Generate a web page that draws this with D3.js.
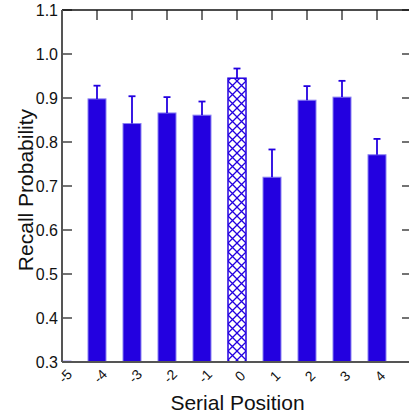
<!DOCTYPE html>
<html>
<head>
<meta charset="utf-8">
<script src="https://cdn.jsdelivr.net/npm/d3@7"></script>
<style>
  html, body { margin: 0; padding: 0; background: #fff; }
  text { font-family: Arial, "Liberation Sans", sans-serif; fill: #111; }
</style>
</head>
<body>
<div id="chart"></div>
<script>
// Serial position recall data
const positions = [-5, -4, -3, -2, -1, 0, 1, 2, 3, 4];
const recall = [0.302, 0.898, 0.842, 0.866, 0.861, 0.945, 0.720, 0.895, 0.902, 0.771];
const errUp = [0, 0.030, 0.062, 0.036, 0.031, 0.022, 0.063, 0.032, 0.037, 0.036];
const yTicks = [0.3, 0.4, 0.5, 0.6, 0.7, 0.8, 0.9, 1.0, 1.1];
const xTicks = [-5, -4, -3, -2, -1, 0, 1, 2, 3, 4];
const highlight = 0; // the hatched bar

const W = 409, H = 415;
const plot = { left: 62, right: 412, top: 10, bottom: 362 };
const blue = '#2300e0';

const svg = d3.select('#chart').append('svg')
  .attr('width', W)
  .attr('height', H);

const x = d3.scaleLinear().domain([-5, 5]).range([plot.left, plot.right]);
const y = d3.scaleLinear().domain([0.3, 1.1]).range([plot.bottom, plot.top]);
const barW = 18;

// crosshatch pattern for the target position
const defs = svg.append('defs');
const pat = defs.append('pattern')
  .attr('id', 'hatch')
  .attr('patternUnits', 'userSpaceOnUse')
  .attr('width', 9).attr('height', 9)
  .attr('x', x(0) - barW / 2);
pat.append('rect').attr('width', 9).attr('height', 9).attr('fill', '#fff');
pat.append('path')
  .attr('d', 'M0,0 L9,9 M9,0 L0,9')
  .attr('stroke', blue).attr('stroke-width', 1.3).attr('fill', 'none');

defs.append('clipPath').attr('id', 'plotClip')
  .append('rect')
  .attr('x', plot.left).attr('y', plot.top)
  .attr('width', plot.right - plot.left).attr('height', plot.bottom - plot.top);

// frame ticks (inward)
const frame = svg.append('g');
yTicks.forEach(v => {
  frame.append('line')
    .attr('x1', plot.left).attr('x2', plot.left + 10)
    .attr('y1', y(v)).attr('y2', y(v))
    .attr('stroke', '#444').attr('stroke-width', 1.5);
  frame.append('line')
    .attr('x1', plot.right).attr('x2', plot.right - 10)
    .attr('y1', y(v)).attr('y2', y(v))
    .attr('stroke', '#444').attr('stroke-width', 1.5);
});
xTicks.forEach(v => {
  frame.append('line')
    .attr('x1', x(v)).attr('x2', x(v))
    .attr('y1', plot.top).attr('y2', plot.top + 10)
    .attr('stroke', '#444').attr('stroke-width', 1.5);
});

// bars
const bars = svg.append('g').attr('clip-path', 'url(#plotClip)');
positions.forEach((p, i) => {
  const isHi = p === highlight;
  bars.append('rect')
    .attr('x', x(p) - barW / 2)
    .attr('y', y(recall[i]))
    .attr('width', barW)
    .attr('height', y(0.3) - y(recall[i]))
    .attr('fill', isHi ? 'url(#hatch)' : blue)
    .attr('stroke', isHi ? blue : '#8a80f2')
    .attr('stroke-width', isHi ? 1.5 : 1);

  if (errUp[i] > 0) {
    const top = y(recall[i] + errUp[i]);
    bars.append('line')
      .attr('x1', x(p)).attr('x2', x(p))
      .attr('y1', y(recall[i])).attr('y2', top)
      .attr('stroke', blue).attr('stroke-width', 1.8);
    bars.append('line')
      .attr('x1', x(p) - 3.5).attr('x2', x(p) + 3.5)
      .attr('y1', top).attr('y2', top)
      .attr('stroke', blue).attr('stroke-width', 1.8);
  }
});

// frame lines
svg.append('line')
  .attr('x1', plot.left).attr('x2', W)
  .attr('y1', plot.top).attr('y2', plot.top)
  .attr('stroke', '#111').attr('stroke-width', 1.5);
svg.append('line')
  .attr('x1', plot.left).attr('x2', plot.left)
  .attr('y1', plot.top).attr('y2', plot.bottom)
  .attr('stroke', '#555').attr('stroke-width', 2);
svg.append('line')
  .attr('x1', plot.left).attr('x2', W)
  .attr('y1', plot.bottom).attr('y2', plot.bottom)
  .attr('stroke', '#555').attr('stroke-width', 2);

// y tick labels
svg.append('g').selectAll('text')
  .data(yTicks)
  .join('text')
  .attr('x', plot.left - 4)
  .attr('y', d => y(d))
  .attr('text-anchor', 'end')
  .attr('dominant-baseline', 'central')
  .style('font-size', '16px')
  .text(d => d.toFixed(1));

// x tick labels, rotated
svg.append('g').selectAll('text')
  .data(xTicks)
  .join('text')
  .attr('transform', d => `translate(${x(d) + 3},${plot.bottom + 14}) rotate(-45)`)
  .attr('text-anchor', 'middle')
  .attr('dominant-baseline', 'central')
  .style('font-size', '14px')
  .text(d => d);

// axis titles
svg.append('text')
  .attr('x', (plot.left + W) / 2 + 2)
  .attr('y', 410)
  .attr('text-anchor', 'middle')
  .style('font-size', '21px')
  .text('Serial Position');

svg.append('text')
  .attr('transform', `translate(33,${(plot.top + plot.bottom) / 2 + 4}) rotate(-90)`)
  .attr('text-anchor', 'middle')
  .style('font-size', '21px')
  .text('Recall Probability');
</script>
</body>
</html>
